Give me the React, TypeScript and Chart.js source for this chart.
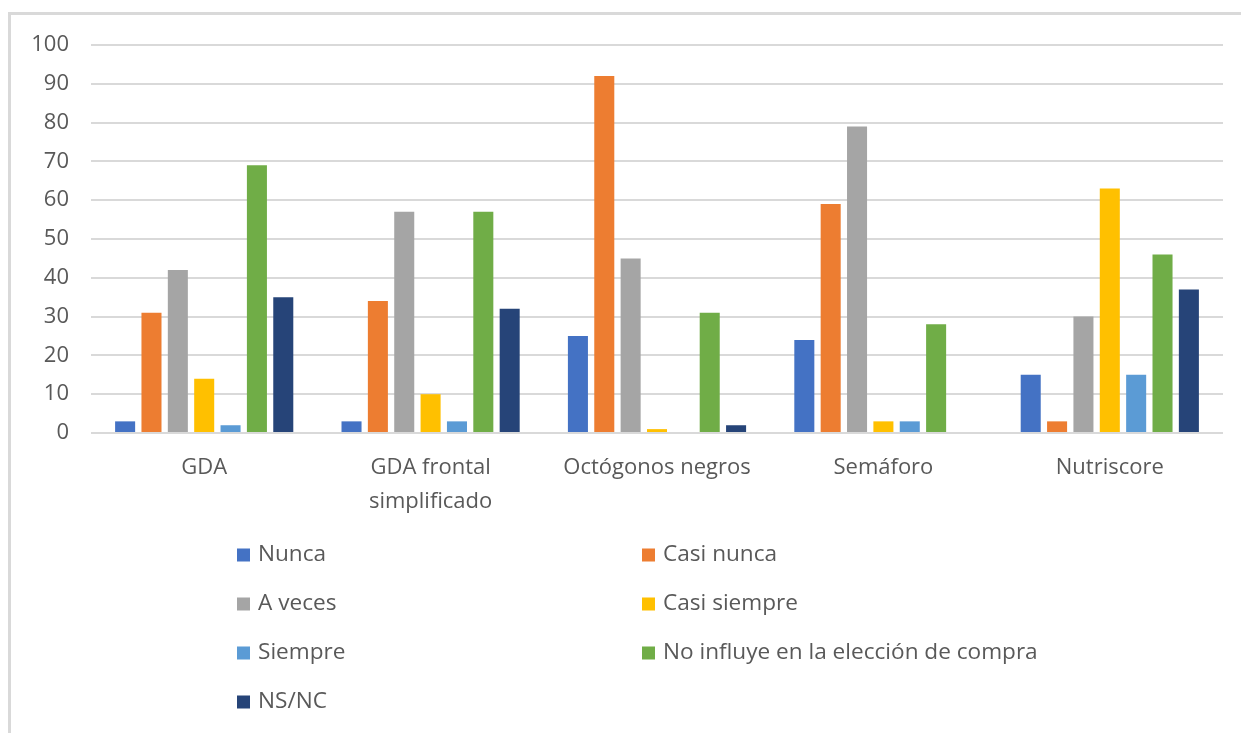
import React, { useEffect, useRef } from "react";
import { Chart, registerables } from "chart.js";

Chart.register(...registerables);

const categories: (string | string[])[] = [
  "GDA",
  ["GDA frontal", "simplificado"],
  "Octógonos negros",
  "Semáforo",
  "Nutriscore",
];

const seriesNames = [
  "Nunca",
  "Casi nunca",
  "A veces",
  "Casi siempre",
  "Siempre",
  "No influye en la elección de compra",
  "NS/NC",
];

const nunca = [3, 3, 25, 24, 15];
const casiNunca = [31, 34, 92, 59, 3];
const aVeces = [42, 57, 45, 79, 30];
const casiSiempre = [14, 10, 1, 3, 63];
const siempre = [2, 3, 0, 3, 15];
const noInfluye = [69, 57, 31, 28, 46];
const nsnc = [35, 32, 2, 0, 37];

const seriesValues = [nunca, casiNunca, aVeces, casiSiempre, siempre, noInfluye, nsnc];
const seriesColors = ["#4472C4", "#ED7D31", "#A5A5A5", "#FFC000", "#5B9BD5", "#70AD47", "#264478"];

const yTicksMin = 0;
const yTicksMax = 100;
const yTicksStep = 10;

const FONT = "'Open Sans', 'Noto Sans', sans-serif";
const TEXT = "#595959";
const GRID = "#d9d9d9";

const legendPlugin = {
  id: "twoColLegend",
  afterDraw(chart: any) {
    const ctx = chart.ctx;
    const colX = [237, 642];
    const rowY0 = 555;
    const rowStep = 49;
    ctx.save();
    ctx.font = `22.6px ${FONT}`;
    ctx.textBaseline = "middle";
    ctx.textAlign = "left";
    chart.data.datasets.forEach((ds: any, i: number) => {
      const col = i % 2;
      const row = Math.floor(i / 2);
      const x = colX[col];
      const y = rowY0 + row * rowStep;
      ctx.fillStyle = ds.backgroundColor;
      ctx.fillRect(x, y - 6.5, 13, 13);
      ctx.fillStyle = TEXT;
      ctx.fillText(ds.label, x + 21, y);
    });
    ctx.restore();
  },
};

export default function App() {
  const ref = useRef<HTMLCanvasElement | null>(null);

  useEffect(() => {
    if (!ref.current) return;
    const chart = new Chart(ref.current, {
      type: "bar",
      data: {
        labels: categories,
        datasets: seriesNames.map((name, i) => ({
          label: name,
          data: seriesValues[i],
          backgroundColor: seriesColors[i],
          borderWidth: 0,
          categoryPercentage: 0.815,
          barPercentage: 0.76,
        })),
      },
      options: {
        responsive: false,
        animation: false,
        layout: { padding: { left: 0, right: 18, top: 45, bottom: 0 } },
        plugins: {
          legend: { display: false },
          tooltip: { enabled: false },
        },
        scales: {
          x: {
            grid: { display: false, drawTicks: false },
            border: { display: false },
            ticks: {
              color: TEXT,
              font: { family: FONT, size: 22, lineHeight: 1.55 },
              padding: 18,
              maxRotation: 0,
              autoSkip: false,
            },
            afterFit: (scale: any) => {
              scale.height = 300;
            },
          },
          y: {
            min: yTicksMin,
            max: yTicksMax,
            grid: { color: GRID, lineWidth: 2, drawTicks: false },
            border: { display: false },
            ticks: {
              stepSize: yTicksStep,
              color: TEXT,
              font: { family: FONT, size: 22 },
              padding: 22,
            },
            afterFit: (scale: any) => {
              scale.width = 91;
            },
          },
        },
      },
      plugins: [legendPlugin],
    });
    return () => chart.destroy();
  }, []);

  return (
    <div
      style={{
        position: "fixed",
        left: 0,
        top: 0,
        width: 1241,
        height: 733,
        overflow: "hidden",
        background: "#ffffff",
      }}
    >
      <div
        style={{
          position: "absolute",
          left: 8,
          top: 12,
          width: 1300,
          height: 800,
          borderLeft: `3px solid ${GRID}`,
          borderTop: `3px solid ${GRID}`,
        }}
      />
      <canvas
        ref={ref}
        width={1241}
        height={733}
        style={{ position: "absolute", left: 0, top: 0, width: 1241, height: 733 }}
      />
    </div>
  );
}
